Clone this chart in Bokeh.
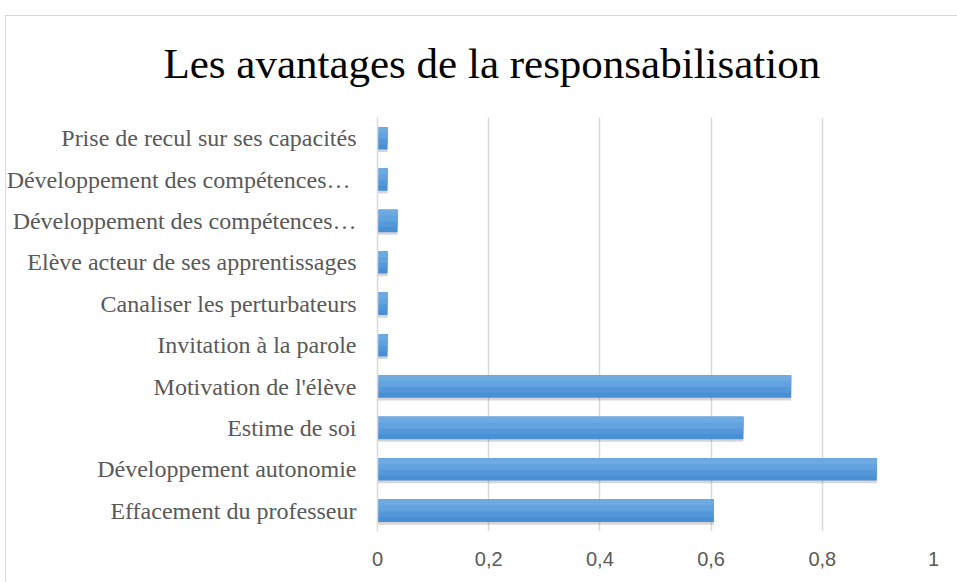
from bokeh.plotting import figure
from bokeh.models import FactorRange, Range1d, FixedTicker
from bokeh.transform import dodge
from bokeh.embed import file_html
from bokeh.resources import INLINE

title_text = "Les avantages de la responsabilisation"
# bottom to top (the two truncated labels are told apart by a trailing space)
categories = [
    "Effacement du professeur",
    "Développement autonomie",
    "Estime de soi",
    "Motivation de l'élève",
    "Invitation à la parole",
    "Canaliser les perturbateurs",
    "Elève acteur de ses apprentissages",
    "Développement des compétences…",
    "Développement des compétences… ",
    "Prise de recul sur ses capacités",
]
values = [0.605, 0.898, 0.658, 0.744, 0.018, 0.018, 0.018, 0.036, 0.018, 0.018]
x_ticks = [0, 0.2, 0.4, 0.6, 0.8, 1]
x_tick_labels = ["0", "0,2", "0,4", "0,6", "0,8", "1"]

p = figure(width=957, height=582, output_backend="svg", toolbar_location=None,
           y_range=FactorRange(factors=categories, range_padding=0),
           x_range=Range1d(0, 1),
           min_border_left=377, min_border_right=24, min_border_top=117, min_border_bottom=51)
p.margin = (0, 0, 0, 0)
p.border_fill_color = None
p.background_fill_color = "#ffffff"
# chart-area frame lines (top and left; right/bottom fall outside the window)
p.styles = {
    "background": ("linear-gradient(#d9d9d9, #d9d9d9) 5px 15px / 100% 1px no-repeat, "
                   "linear-gradient(#d9d9d9, #d9d9d9) 5px 15px / 1px 100% no-repeat, #ffffff"),
}
p.outline_line_color = None

p.title.text = title_text
p.title.align = "left"
p.title.offset = -214
p.title.standoff = 62
p.title.text_font = "Liberation Serif"
p.title.text_font_size = "43px"
p.title.text_font_style = "normal"
p.title.text_color = "#000000"

src = dict(y=categories, v=values)
# shadow
p.hbar(y=dodge("y", -0.06, range=p.y_range), right="v", left=0, height=0.55,
       source=src, fill_color="#000000", fill_alpha=0.16, line_color=None)
# gradient-like bar
p.hbar(y="y", right="v", left=0, height=0.54, source=src,
       fill_color="#4a8ed3", line_color=None)
p.hbar(y=dodge("y", 0.06, range=p.y_range), right="v", left=0, height=0.42, source=src,
       fill_color="#5598da", line_color=None)
p.hbar(y=dodge("y", 0.13, range=p.y_range), right="v", left=0, height=0.28, source=src,
       fill_color="#62a2df", line_color=None)
p.hbar(y=dodge("y", 0.2, range=p.y_range), right="v", left=0, height=0.14, source=src,
       fill_color="#6eaae2", line_color=None)

p.xgrid.ticker = FixedTicker(ticks=x_ticks)
p.xgrid.grid_line_color = "#d9d9d9"
p.xgrid.grid_line_width = 1.5
p.ygrid.grid_line_color = None

p.xaxis.ticker = FixedTicker(ticks=x_ticks)
p.xaxis.major_label_overrides = {t: l for t, l in zip(x_ticks, x_tick_labels)}
p.xaxis.axis_line_color = None
p.xaxis.major_tick_line_color = None
p.xaxis.minor_tick_line_color = None
p.xaxis.major_label_text_font = "Liberation Sans"
p.xaxis.major_label_text_font_size = "20px"
p.xaxis.major_label_text_color = "#595959"
p.xaxis.major_label_standoff = 14

p.yaxis.axis_line_color = "#d9d9d9"
p.yaxis.axis_line_width = 1.5
p.yaxis.major_tick_line_color = None
p.yaxis.minor_tick_line_color = None
p.yaxis.major_label_text_font = "Liberation Serif"
p.yaxis.major_label_text_font_size = "24px"
p.yaxis.major_label_text_color = "#595959"
p.yaxis.major_label_standoff = 15

open("out.html", "w").write(file_html(p, INLINE))
